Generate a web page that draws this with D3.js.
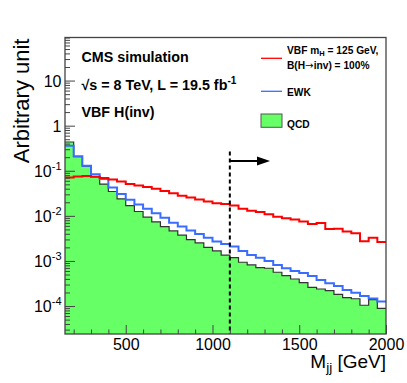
<!DOCTYPE html>
<html>
<head>
<meta charset="utf-8">
<script src="https://cdn.jsdelivr.net/npm/d3@7"></script>
<style>
html,body{margin:0;padding:0;background:#fff;}
svg{display:block;font-family:"Liberation Sans",Arial,Helvetica,sans-serif;}
</style>
</head>
<body>
<script>
// ---- data ----
const binEdgesStart = 150;
const binWidth = 50;
const xTickValues = [500, 1000, 1500, 2000];
const xTickLabels = ["500", "1000", "1500", "2000"];
const yTickExponents = [-4, -3, -2, -1, 0, 1];
const signalVBF = [0.071,0.0747,0.0762,0.0736,0.0688,0.0641,0.0578,0.0506,0.0471,0.0434,
  0.0398,0.0354,0.0319,0.0278,0.0255,0.0230,0.0208,0.0191,0.0182,0.0169,
  0.0143,0.0129,0.0121,0.0109,0.0095,0.0089,0.0083,0.0075,0.0066,0.0069,
  0.0051,0.0052,0.0045,0.0041,0.00274,0.00325,0.00264];
const ewk = [0.36,0.21,0.129,0.0836,0.0654,0.0425,0.0304,0.0227,0.0178,0.0143,
  0.0114,0.00903,0.00699,0.00578,0.00476,0.00394,0.00325,0.00271,0.00239,0.00208,
  0.00167,0.00136,0.00118,0.00100,0.000815,0.000688,0.000600,0.000541,0.000464,0.000378,
  0.000319,0.000278,0.000227,0.000198,0.000167,0.000147,0.000126];
const qcd = [0.434,0.205,0.126,0.0736,0.0506,0.0347,0.0239,0.0169,0.0125,0.00936,
  0.00736,0.00578,0.00464,0.00373,0.00297,0.00251,0.00200,0.00167,0.00134,0.00118,
  0.000936,0.000815,0.000710,0.000688,0.000561,0.000471,0.000398,0.000330,0.000260,0.000239,
  0.000219,0.000182,0.000153,0.000145,0.000104,0.000139,0.0000889];
const cutValue = 1100;

// ---- layout ----
const W = 407, H = 383;
const L = 65, R = 386, T = 37.5, B = 334;

const svg = d3.select("body").append("svg").attr("width", W).attr("height", H);
svg.append("rect").attr("width", W).attr("height", H).attr("fill", "#fff");

const x = d3.scaleLinear().domain([150, 2000]).range([L, R]);
const y = d3.scaleLog().domain([Math.pow(10, -4.62), Math.pow(10, 1.955)]).range([B, T]);

function stepPts(vals) {
  const pts = vals.map((v, i) => [binEdgesStart + i * binWidth, v]);
  pts.push([binEdgesStart + vals.length * binWidth, vals[vals.length - 1]]);
  return pts;
}

// QCD filled
const area = d3.area().curve(d3.curveStepAfter)
  .x(d => x(d[0])).y0(B).y1(d => y(d[1]));
svg.append("path").datum(stepPts(qcd)).attr("d", area).attr("fill", "#66ff66").attr("stroke", "none");
const line = d3.line().curve(d3.curveStepAfter).x(d => x(d[0])).y(d => y(d[1]));
svg.append("path").datum(stepPts(qcd)).attr("d", line).attr("fill", "none")
  .attr("stroke", "#333").attr("stroke-width", 1.2);
svg.append("path").datum(stepPts(ewk)).attr("d", line).attr("fill", "none")
  .attr("stroke", "#3a6cff").attr("stroke-width", 2);
svg.append("path").datum(stepPts(signalVBF)).attr("d", line).attr("fill", "none")
  .attr("stroke", "#ff0000").attr("stroke-width", 2);

// cut line and arrow
svg.append("line").attr("x1", x(cutValue)).attr("x2", x(cutValue))
  .attr("y1", 151.5).attr("y2", B)
  .attr("stroke", "#000").attr("stroke-width", 2).attr("stroke-dasharray", "4,3");
svg.append("line").attr("x1", x(cutValue)).attr("x2", 260).attr("y1", 161).attr("y2", 161)
  .attr("stroke", "#000").attr("stroke-width", 2);
svg.append("path").attr("d", "M257,156.5 L270,161 L257,165.5 Z").attr("fill", "#000");

// axes
const axCol = "#444";
const gx = svg.append("g").attr("transform", `translate(0,${B})`);
const minorX = d3.range(200, 2000, 100).filter(v => v % 500 !== 0);
gx.call(d3.axisBottom(x).tickValues(minorX).tickSizeInner(-4.5).tickSizeOuter(0).tickFormat(""));
gx.call(g => g.select(".domain").remove());
const gx2 = svg.append("g").attr("transform", `translate(0,${B})`);
gx2.call(d3.axisBottom(x).tickValues(xTickValues).tickSizeInner(-9).tickSizeOuter(0).tickFormat((d, i) => xTickLabels[i]));
gx2.call(g => g.select(".domain").remove());
svg.selectAll("g .tick line").attr("stroke", axCol).attr("stroke-width", 1);
gx2.selectAll("text").attr("font-size", 16).attr("fill", "#000").attr("y", null).attr("dy", null)
  .attr("transform", "translate(0,16)").attr("dominant-baseline", "alphabetic");

const minorY = [];
for (let e = -5; e <= 1; e++) for (let m = 2; m <= 9; m++) {
  const v = m * Math.pow(10, e);
  if (v >= y.domain()[0] && v <= y.domain()[1]) minorY.push(v);
}
const gy = svg.append("g").attr("transform", `translate(${L},0)`);
gy.call(d3.axisLeft(y).tickValues(minorY).tickSizeInner(-5).tickSizeOuter(0).tickFormat(""));
gy.call(g => g.select(".domain").remove());
const gy2 = svg.append("g").attr("transform", `translate(${L},0)`);
gy2.call(d3.axisLeft(y).tickValues(yTickExponents.map(e => Math.pow(10, e))).tickSizeInner(-10).tickSizeOuter(0).tickFormat(""));
gy2.call(g => g.select(".domain").remove());
svg.selectAll("g .tick line").attr("stroke", axCol).attr("stroke-width", 1);

// y labels
yTickExponents.forEach(e => {
  const t = svg.append("text").attr("x", 61.5).attr("y", y(Math.pow(10, e)) + 6)
    .attr("text-anchor", "end").attr("font-size", 16).attr("fill", "#000");
  if (e === 0) t.text("1");
  else if (e === 1) t.text("10");
  else {
    t.append("tspan").text("10");
    t.append("tspan").attr("font-size", 11).attr("dy", -7).text(String(e));
  }
});

// frame
svg.append("rect").attr("x", L).attr("y", T).attr("width", R - L).attr("height", B - T)
  .attr("fill", "none").attr("stroke", axCol).attr("stroke-width", 1.3);

// axis titles
svg.append("text").attr("transform", `translate(29,${T + 1}) rotate(-90)`)
  .attr("text-anchor", "end").attr("font-size", 22).attr("fill", "#000").text("Arbitrary unit");
const xt = svg.append("text").attr("x", R).attr("y", 368).attr("text-anchor", "end")
  .attr("font-size", 19).attr("fill", "#000");
xt.append("tspan").text("M");
xt.append("tspan").attr("font-size", 13.5).attr("dy", 4).text("jj");
xt.append("tspan").attr("dy", -4).text(" [GeV]");

// header texts
const hFs = 14.3;
svg.append("text").attr("x", 81.5).attr("y", 61.5).attr("font-size", hFs).attr("font-weight", "bold").text("CMS simulation");
const t2 = svg.append("text").attr("x", 81.5).attr("y", 89.5).attr("font-size", hFs).attr("font-weight", "bold");
t2.append("tspan").text("√s = 8 TeV, L = 19.5 fb");
t2.append("tspan").attr("font-size", 10).attr("dy", -6).text("-1");
svg.append("text").attr("x", 81.5).attr("y", 116.5).attr("font-size", hFs).attr("font-weight", "bold").text("VBF H(inv)");

// legend
const legFs = 10.2;
svg.append("line").attr("x1", 261).attr("x2", 282).attr("y1", 58.3).attr("y2", 58.3).attr("stroke", "#ff0000").attr("stroke-width", 1.3);
const l1 = svg.append("text").attr("x", 287).attr("y", 53.5).attr("font-size", legFs).attr("font-weight", "bold");
l1.append("tspan").text("VBF m");
l1.append("tspan").attr("font-size", 7.5).attr("dy", 2.5).text("H");
l1.append("tspan").attr("dy", -2.5).text(" = 125 GeV,");
const l2 = svg.append("text").attr("x", 287).attr("y", 69).attr("font-size", legFs).attr("font-weight", "bold");
l2.append("tspan").text("B(H");
l2.append("tspan").attr("font-family", "DejaVu Sans").attr("font-weight", "normal").text("→");
l2.append("tspan").text("inv) = 100%");
svg.append("line").attr("x1", 261).attr("x2", 282).attr("y1", 91.3).attr("y2", 91.3).attr("stroke", "#3a6cff").attr("stroke-width", 1.3);
svg.append("text").attr("x", 287).attr("y", 96).attr("font-size", legFs).attr("font-weight", "bold").text("EWK");
svg.append("rect").attr("x", 261).attr("y", 114).attr("width", 21).attr("height", 13.3).attr("fill", "#66ff66").attr("stroke", "#555").attr("stroke-width", 1);
svg.append("text").attr("x", 287).attr("y", 127.5).attr("font-size", legFs).attr("font-weight", "bold").text("QCD");
</script>
</body>
</html>
